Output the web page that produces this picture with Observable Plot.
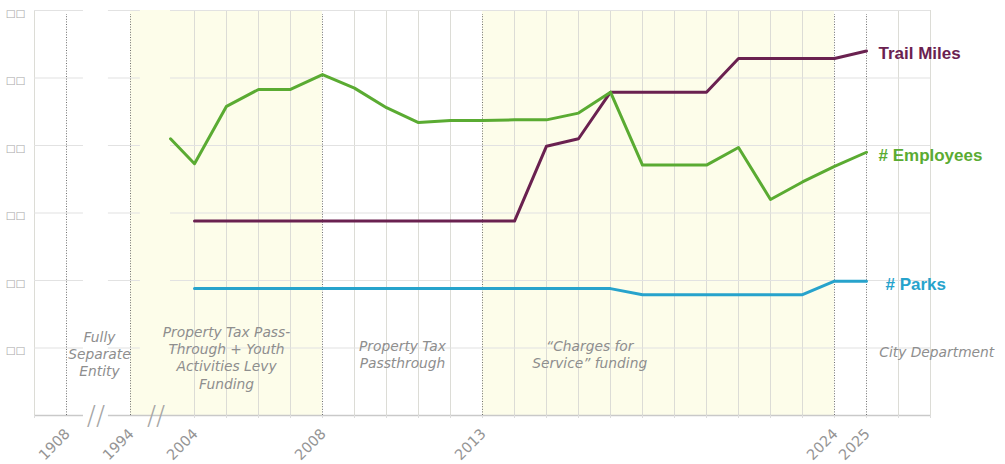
<!DOCTYPE html>
<html><head><meta charset="utf-8">
<script src="https://cdn.jsdelivr.net/npm/d3@7"></script>
<script src="https://cdn.jsdelivr.net/npm/@observablehq/plot@0.6"></script>
<style>body{margin:0;background:#fff}</style>
</head><body><div id="chart"></div>
<script>
// ---- data ----
const slots = ["1908", "//", "1994", "//"];            // slots before 2004 (break marks "//")
const years = d3.range(2004, 2026);                    // 2004 .. 2025
const employees  = [3.73,4.58,4.83,4.83,5.05,4.85,4.56,4.34,4.37,4.37,4.38,4.38,4.48,4.79,3.71,3.71,3.71,3.97,3.20,3.46,3.69,3.90];
const trailMiles = [2.88,2.88,2.88,2.88,2.88,2.88,2.88,2.88,2.88,2.88,2.88,3.99,4.10,4.79,4.79,4.79,4.79,5.29,5.29,5.29,5.29,5.40];
const parks      = [1.88,1.88,1.88,1.88,1.88,1.88,1.88,1.88,1.88,1.88,1.88,1.88,1.88,1.88,1.79,1.79,1.79,1.79,1.79,1.79,1.99,1.99];
const employeesLeadIn = [{slot: 3.25, value: 4.10}];   // line entering from the break
const seriesNames  = ["Trail Miles", "# Employees", "# Parks"];
const seriesColors = ["#6a2150", "#5aab32", "#27a3cc"];
const tickLabels = ["1908", "1994", "2004", "2008", "2013", "2024", "2025"];
const dottedAt   = ["1908", "1994", "2008", "2013", "2024", "2025"];
const shadedEras = [["1994", "2008"], ["2013", "2024"]];
const yTicks = [1, 2, 3, 4, 5, 6];
const yTickLabel = "□□";
const gridGaps = [[0.53, 1.31], [2.31, 3.25]];
const breakMarks = [0.92, 2.8];
const eraLabels = [
  {text: "Fully\nSeparate\nEntity", at: 1.03, y: 0.92},
  {text: "Property Tax Pass-\nThrough + Youth\nActivities Levy\nFunding", at: 5.0, y: 0.86},
  {text: "Property Tax\nPassthrough", at: 10.5, y: 0.91},
  {text: "\u201cCharges for\nService\u201d funding", at: 16.35, y: 0.91}
];
const eraLabelRight = [{text: "City Department", at: 25.4, y: 0.95}];

// ---- helpers ----
const pos = label => {
  const i = slots.indexOf(String(label));
  return i >= 0 ? i : (+label - 2000);
};
const X0 = -1, X1 = 27;
const allSlots = d3.range(X0, X1 + 1);
const series = [trailMiles, employees, parks];
const lineData = series.flatMap((vals, s) => {
  const rows = years.map((yr, k) => ({slot: pos(yr), value: vals[k], name: seriesNames[s]}));
  if (s === 1) return [...employeesLeadIn.map(d => ({...d, name: seriesNames[1]})), ...rows];
  return rows;
});
const endLabels = series.map((vals, s) => ({slot: pos(2025), value: vals[vals.length - 1], name: seriesNames[s], color: seriesColors[s]}));
const segs = [];
const cuts = [[X0, gridGaps[0][0]], [gridGaps[0][1], gridGaps[1][0]], [gridGaps[1][1], X1]];
for (const v of yTicks) for (const [a, b] of cuts) segs.push({y: v, x1: a, x2: b});
const axisSegs = [{y: 0, x1: X0, x2: gridGaps[0][0]}, {y: 0, x1: gridGaps[0][1], x2: X1}];
const greyGrid = [X0, ...d3.range(4, X1 + 1)].filter(p => !dottedAt.map(pos).includes(p));

const eraStyle = {x: "at", y: "y", text: "text", fontSize: 13.8, fontStyle: "italic", lineHeight: 1.24,
  fill: "#8e8e8e", fontFamily: "'DejaVu Sans', sans-serif"};
const endStyle = {x: "slot", y: "value", text: "name", fill: "color", textAnchor: "start", dy: 3,
  fontSize: 17, fontWeight: "bold", fontFamily: "'Liberation Sans', Arial, sans-serif"};

const chart = Plot.plot({
  width: 1005, height: 464,
  marginLeft: 34, marginRight: 75, marginTop: 10, marginBottom: 49,
  x: {type: "linear", domain: [X0, X1], axis: null},
  y: {type: "linear", domain: [0, 6], axis: null},
  color: {domain: seriesNames, range: seriesColors},
  style: {fontFamily: "'DejaVu Sans', sans-serif", background: "#fff", overflow: "visible"},
  marks: [
    Plot.rect(shadedEras, {x1: d => pos(d[0]), x2: d => pos(d[1]), y1: 0, y2: 6, fill: "#fdfdea"}),
    Plot.ruleX(greyGrid, {x: d => d, y1: 0, y2: 6, stroke: "#dcdcd6", strokeWidth: 1}),
    Plot.ruleY(segs, {y: "y", x1: "x1", x2: "x2", stroke: "#e2e2e2", strokeWidth: 1.2}),
    Plot.ruleY(axisSegs, {y: "y", x1: "x1", x2: "x2", stroke: "#c9c9c9", strokeWidth: 1.4}),
    Plot.ruleX(allSlots.filter(p => p >= 4 || p === X0), {x: d => d, y1: 0, y2: 0, insetBottom: -3, stroke: "#dddddd"}),
    Plot.ruleX(dottedAt, {x: d => pos(d), y1: 0, y2: 6, insetBottom: -4, stroke: "#707070", strokeWidth: 1, strokeDasharray: "1,1.6"}),
    Plot.line(lineData, {x: "slot", y: "value", z: "name", stroke: "name", strokeWidth: 3, curve: "linear"}),
    Plot.text(endLabels.filter(d => d.name !== "# Parks"), {...endStyle, dx: 12}),
    Plot.text(endLabels.filter(d => d.name === "# Parks"), {...endStyle, dx: 19}),
    Plot.text(eraLabels, {...eraStyle, textAnchor: "middle"}),
    Plot.text(eraLabelRight, {...eraStyle, textAnchor: "start"}),
    Plot.text(tickLabels, {x: d => pos(d), y: 0, text: d => d, rotate: -45, textAnchor: "end", dx: 1, dy: 16,
      fontSize: 14.5, fill: "#959595"}),
    Plot.text(breakMarks, {x: d => d, y: 0, text: () => "//", dy: 1,
      fontSize: 27, fill: "#a5a5a5", fontFamily: "'DejaVu Sans', sans-serif", fontWeight: 200}),
    Plot.text(yTicks, {x: X0, y: d => d, text: () => yTickLabel, textAnchor: "end", dx: -9, dy: 3, fontSize: 10.5,
      fill: "#a8a8a8", fontFamily: "'DejaVu Sans', sans-serif"})
  ]
});
document.getElementById("chart").appendChild(chart);
</script>
</body></html>
